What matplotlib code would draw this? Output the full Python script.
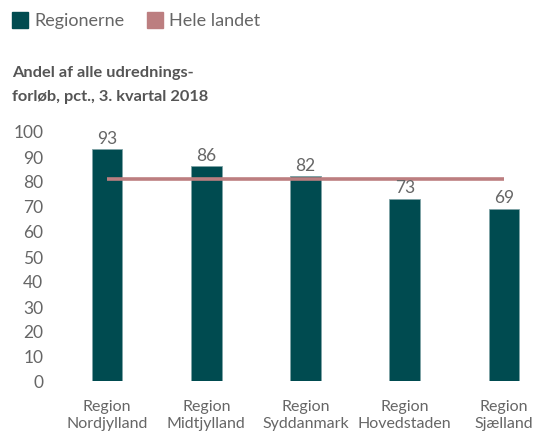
import numpy as np
from matplotlib import pyplot as plt
from matplotlib.patches import Rectangle

# data
regions = ["Region\nNordjylland", "Region\nMidtjylland", "Region\nSyddanmark",
           "Region\nHovedstaden", "Region\nSjælland"]
values = [93, 86, 82, 73, 69]
national = 81
yticks = [0, 10, 20, 30, 40, 50, 60, 70, 80, 90, 100]

bar_color = "#004B50"
line_color = "#BC7E80"
text_color = "#666666"

plt.rcParams["font.family"] = ["Lato", "DejaVu Sans"]

W, H = 535, 435
fig = plt.figure(figsize=(W / 100, H / 100), dpi=100)

# axes placed in pixel terms: y=0 at 382px, y=100 at 132px from top
left_px, right_px = 60, 535
bottom_px, top_px = 382, 132
ax = fig.add_axes([left_px / W, (H - bottom_px) / H,
                   (right_px - left_px) / W, (bottom_px - top_px) / H])

x = np.arange(len(values))
ax.bar(x, values, width=0.31, color=bar_color, edgecolor="#7FA3A6", linewidth=0.6)
ax.plot([x[0], x[-1]], [national, national], color=line_color, lw=2.6, solid_capstyle="butt")

for xi, v in zip(x, values):
    ax.text(xi, v + 1.2, str(v), ha="center", va="bottom", fontsize=12.5,
            color=text_color, clip_on=False)

spacing = 99.25
ax.set_xlim(-(107 - left_px) / spacing, (right_px - 107) / spacing)
ax.set_ylim(0, 100)
ax.set_yticks(yticks)
ax.set_yticklabels([str(t) for t in yticks], fontsize=12.5, color=text_color)
ax.set_xticks(x)
ax.set_xticklabels(regions, fontsize=11.5, color=text_color, linespacing=1.3)
ax.tick_params(axis="y", length=0, pad=12)
ax.tick_params(axis="x", length=0, pad=13)
for s in ax.spines.values():
    s.set_visible(False)

# legend drawn as squares + text in figure pixels
def px(xp, yp):
    return xp / W, 1 - yp / H

for sx, color, label in [(12, bar_color, "Regionerne"), (147, line_color, "Hele landet")]:
    fig.patches.append(Rectangle(px(sx, 29), 16 / W, 16 / H, color=color,
                                 transform=fig.transFigure, figure=fig))
    fig.text(*px(sx + 22, 21), label, fontsize=13, color=text_color, va="center")

fig.text(*px(12, 73), "Andel af alle udrednings-", fontsize=11.8, fontweight="bold",
         color="#555555", va="center")
fig.text(*px(12, 97), "forløb, pct., 3. kvartal 2018", fontsize=11.8, fontweight="bold",
         color="#555555", va="center")

fig.savefig("out.png", dpi=100)
